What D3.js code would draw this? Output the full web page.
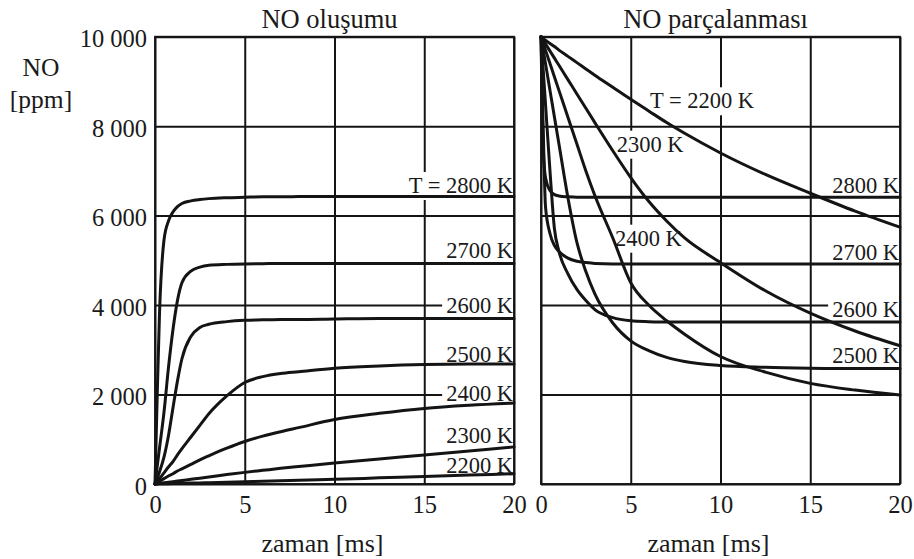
<!DOCTYPE html>
<html><head><meta charset="utf-8">
<script src="https://cdn.jsdelivr.net/npm/d3@7"></script>
<style>
body{margin:0;background:#fff}
svg{display:block}
text{font-family:"Liberation Serif","Times New Roman",serif;fill:#1a1a1a}
</style>
</head><body>
<svg id="chart" width="914" height="559"></svg>
<script>
// ---------- data ----------
const temperatures = ["2800", "2700", "2600", "2500", "2400", "2300", "2200"];

// NO formation (left panel), time in ms, NO in ppm
const formationTimes = [0, 0.125, 0.25, 0.5, 0.75, 1, 1.25, 1.5, 2, 2.5, 3, 4, 5, 6, 7, 8, 10, 12.5, 15, 17.5, 20];
const formation2800 = [0, 2000, 3800, 5450, 5880, 6080, 6200, 6270, 6330, 6360, 6380, 6400, 6410, 6420, 6420, 6425, 6430, 6430, 6430, 6430, 6430];
const formation2700 = [0, 400, 800, 1600, 2600, 3450, 4100, 4500, 4760, 4850, 4890, 4910, 4920, 4925, 4930, 4930, 4930, 4930, 4930, 4930, 4930];
const formation2600 = [0, 130, 270, 600, 1080, 1700, 2300, 2800, 3300, 3500, 3570, 3630, 3660, 3670, 3680, 3680, 3690, 3700, 3700, 3700, 3700];
const formation2500 = [0, 60, 120, 250, 380, 500, 650, 790, 1050, 1310, 1570, 1970, 2270, 2400, 2470, 2510, 2590, 2640, 2670, 2680, 2680];
const formation2400 = [0, 30, 60, 120, 180, 230, 290, 340, 440, 540, 630, 800, 950, 1070, 1170, 1260, 1440, 1580, 1690, 1760, 1810];
const formation2300 = [0, 7, 13, 27, 40, 53, 66, 80, 105, 130, 155, 210, 260, 305, 350, 390, 470, 560, 650, 740, 830];
const formation2200 = [0, 1, 3, 5, 8, 10, 13, 15, 20, 25, 30, 40, 50, 60, 70, 85, 105, 137, 170, 200, 230];

// NO decomposition (right panel)
const decompTimes = [0, 0.125, 0.25, 0.5, 0.75, 1, 1.5, 2, 2.5, 3, 4, 5, 6, 7, 8, 10, 12.5, 15, 17.5, 20];
const decomp2800 = [10000, 7500, 6850, 6560, 6470, 6440, 6420, 6410, 6410, 6410, 6410, 6410, 6410, 6410, 6410, 6410, 6410, 6410, 6410, 6410];
const decomp2700 = [10000, 7900, 6200, 5600, 5330, 5200, 5050, 4980, 4950, 4930, 4920, 4920, 4920, 4920, 4920, 4920, 4920, 4920, 4920, 4920];
const decomp2600 = [10000, 9250, 8500, 7000, 5700, 5200, 4700, 4350, 4100, 3900, 3720, 3650, 3630, 3620, 3620, 3620, 3620, 3620, 3620, 3620];
const decomp2500 = [10000, 9700, 9400, 8800, 8200, 7600, 6400, 5400, 4750, 4250, 3600, 3200, 2980, 2830, 2740, 2650, 2610, 2590, 2580, 2580];
const decomp2400 = [10000, 9850, 9700, 9400, 9100, 8800, 8200, 7600, 7000, 6450, 5500, 4500, 4000, 3650, 3350, 2850, 2500, 2250, 2100, 1990];
const decomp2300 = [10000, 9920, 9840, 9680, 9520, 9360, 9040, 8720, 8400, 8080, 7450, 6850, 6320, 5880, 5500, 4950, 4320, 3820, 3420, 3090];
const decomp2200 = [10000, 9960, 9920, 9850, 9780, 9700, 9560, 9420, 9280, 9140, 8870, 8600, 8340, 8080, 7840, 7400, 6920, 6500, 6100, 5740];

// curve labels (text, anchor time in ms, anchor value in ppm)
const formationLabels = ["T = 2800 K", "2700 K", "2600 K", "2500 K", "2400 K", "2300 K", "2200 K"];
const formationLabelTimes = [20, 20, 20, 20, 20, 20, 20];
const formationLabelValues = [6505, 5046, 3823, 2734, 1862, 910, 253];
const decompLabels = ["2800 K", "2700 K", "2600 K", "2500 K", "2400 K", "2300 K", "T = 2200 K"];
const decompLabelTimes = [20, 20, 20, 20, 4.12, 4.22, 6.07];
const decompLabelValues = [6512, 5008, 3740, 2712, 5328, 7429, 8399];

const xTicks = [0, 5, 10, 15, 20];
const yTicks = [0, 2000, 4000, 6000, 8000, 10000];
const titles = ["NO oluşumu", "NO parçalanması"];
const xTitle = "zaman [ms]";
const yTitle = ["NO", "[ppm]"];

// ---------- drawing ----------
const svg = d3.select("#chart");
const ink = "#141414";
const y = d3.scaleLinear().domain([0, 10000]).range([484, 36.7]);
const fmt = d3.formatLocale({decimal: ".", thousands: " ", grouping: [3], currency: ["", ""]}).format(",d");

const panels = [
  {x: d3.scaleLinear().domain([0, 20]).range([155, 514]), times: formationTimes,
   values: [formation2800, formation2700, formation2600, formation2500, formation2400, formation2300, formation2200],
   labels: formationLabels, lt: formationLabelTimes, lv: formationLabelValues, title: titles[0], yLabels: true},
  {x: d3.scaleLinear().domain([0, 20]).range([541, 900]), times: decompTimes,
   values: [decomp2800, decomp2700, decomp2600, decomp2500, decomp2400, decomp2300, decomp2200],
   labels: decompLabels, lt: decompLabelTimes, lv: decompLabelValues, title: titles[1], yLabels: false}
];

panels.forEach(p => {
  const x = p.x;
  const x0 = x.range()[0], x1 = x.range()[1];
  const gGrid = svg.append("g");
  const gMask = svg.append("g");
  const gCurves = svg.append("g");
  const gText = svg.append("g");

  // y axis + horizontal gridlines
  const ya = gGrid.append("g").attr("transform", `translate(${x0},0)`).style("color", ink)
    .call(d3.axisLeft(y).tickValues(yTicks).tickSize(-(x1 - x0)).tickPadding(8)
      .tickFormat(p.yLabels ? fmt : () => ""));
  ya.select(".domain").remove();
  ya.selectAll(".tick line").attr("stroke-width", 2);
  ya.selectAll(".tick text").attr("font-size", 24.5).attr("dy", "0.41em")
    .attr("font-family", "Liberation Serif, serif").style("fill", "#1a1a1a");

  // x axis + vertical gridlines
  const xa = gGrid.append("g").attr("transform", `translate(0,${y(0)})`).style("color", ink)
    .call(d3.axisBottom(x).tickValues(xTicks).tickSize(-(y(0) - y(10000))).tickPadding(12));
  xa.select(".domain").remove();
  xa.selectAll(".tick line").attr("stroke-width", 2);
  xa.selectAll(".tick text").attr("font-size", 24.5)
    .attr("font-family", "Liberation Serif, serif").style("fill", "#1a1a1a");

  // frame
  gGrid.append("rect").attr("x", x0).attr("y", y(10000)).attr("width", x1 - x0)
    .attr("height", y(0) - y(10000)).attr("fill", "none").attr("stroke", ink).attr("stroke-width", 1.8);

  // curves
  const line = d3.line().x(d => x(d[0])).y(d => y(d[1])).curve(d3.curveMonotoneX);
  p.values.forEach(vals => {
    const pts = p.times.map((t, i) => [t, vals[i]]);
    gCurves.append("path").attr("d", line(pts)).attr("fill", "none")
      .attr("stroke", ink).attr("stroke-width", 3).attr("stroke-linejoin", "round").attr("stroke-linecap", "round");
  });

  // labels with white masks over grid
  p.labels.forEach((lab, i) => {
    const atEnd = p.lt[i] >= 20;
    const t = gText.append("text")
      .attr("x", atEnd ? x(p.lt[i]) - 1 : x(p.lt[i]))
      .attr("y", y(p.lv[i]))
      .attr("text-anchor", atEnd ? "end" : "start")
      .attr("font-size", 22.5).text(lab);
    const bb = t.node().getBBox();
    gMask.append("rect").attr("x", bb.x - 4).attr("y", bb.y - 1)
      .attr("width", atEnd ? x1 - (bb.x - 4) - 1 : bb.width + 6).attr("height", bb.height + 3).attr("fill", "#fff");
  });

  // titles
  svg.append("text").attr("x", (x0 + x1) / 2 - 5).attr("y", 28).attr("text-anchor", "middle")
    .attr("font-size", 26.5).text(p.title);
  svg.append("text").attr("x", (x0 + x1) / 2 - 12).attr("y", 551.7).attr("text-anchor", "middle")
    .attr("font-size", 26).text(xTitle);
});

// y-axis title
svg.append("text").attr("x", 41).attr("y", 76).attr("text-anchor", "middle").attr("font-size", 25.5).text(yTitle[0]);
svg.append("text").attr("x", 41).attr("y", 108).attr("text-anchor", "middle").attr("font-size", 25.5).text(yTitle[1]);
</script>
</body></html>
